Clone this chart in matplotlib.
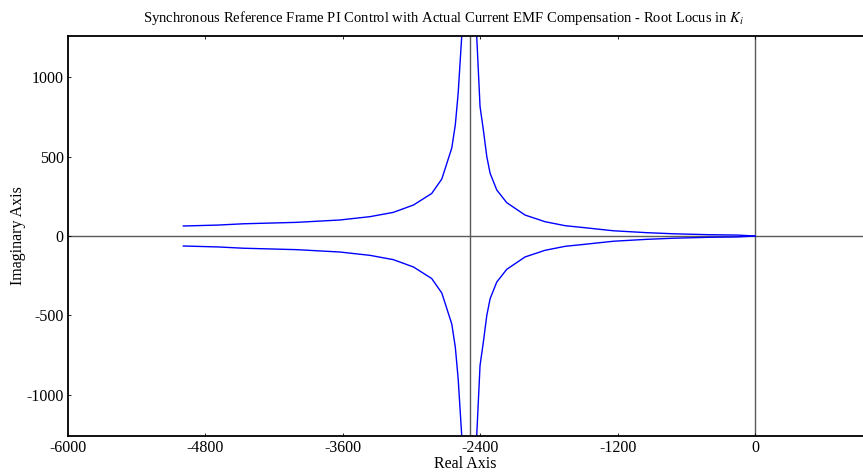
import numpy as np
import matplotlib.pyplot as plt

plt.rcParams['font.family'] = ['Liberation Serif', 'DejaVu Serif']
plt.rcParams['mathtext.fontset'] = 'stix'
plt.rcParams['axes.unicode_minus'] = False

# root locus branches in the upper half plane (lower half is the conjugate)
left_re = [-4993, -4687, -4469, -4003, -3624, -3362, -3159, -2984, -2824,
           -2736, -2649, -2618, -2593, -2562, -2545]
left_im = [63, 69, 77, 86, 101, 122, 149, 195, 268,
           359, 554, 700, 900, 1258, 1500]

right_re = [0, -160, -393, -714, -946, -1238, -1510, -1659, -1834, -2009,
            -2169, -2256, -2314, -2343, -2373, -2402, -2431, -2440]
right_im = [0, 6, 8, 14, 21, 33, 54, 65, 90, 132,
            210, 290, 395, 500, 668, 815, 1256, 1500]

asymptote_re = -2490

x_ticks = [-6000, -4800, -3600, -2400, -1200, 0]
y_ticks = [-1000, -500, 0, 500, 1000]

fig = plt.figure(figsize=(8.63, 4.75), dpi=100)
ax = fig.add_axes([0.0788, 0.0821, 0.9212, 0.8421])

# reference lines: real/imag axes and the asymptote
ax.axhline(0, color='#5a5a5a', lw=1.0, zorder=1)
ax.axvline(0, color='#5a5a5a', lw=1.0, zorder=1)
ax.axvline(asymptote_re, color='#5a5a5a', lw=1.0, zorder=1)

lre, lim = np.array(left_re), np.array(left_im)
rre, rim = np.array(right_re), np.array(right_im)
for re, im in [(lre, lim), (lre, -lim), (rre, rim), (rre, -rim)]:
    ax.plot(re, im, color='#0000ff', lw=1.0, zorder=2)

ax.set_xlim(-6000, 942)
ax.set_ylim(-1260, 1260)
ax.set_xticks(x_ticks)
ax.set_yticks(y_ticks)
ax.tick_params(direction='in', length=2, width=0.6, labelsize=11.5, pad=3,
               top=True)
ax.spines['right'].set_visible(False)
for s in ['left', 'top', 'bottom']:
    ax.spines[s].set_linewidth(1.3)

ax.set_xlabel('Real Axis', fontsize=11.5, labelpad=0)
ax.set_ylabel('Imaginary Axis', fontsize=11.5, labelpad=0)
ax.set_title('Synchronous Reference Frame PI Control with Actual Current EMF '
             'Compensation - Root Locus in $K_i$', fontsize=10.5, pad=10,
             x=0.472)

fig.savefig('out.png', dpi=100)
